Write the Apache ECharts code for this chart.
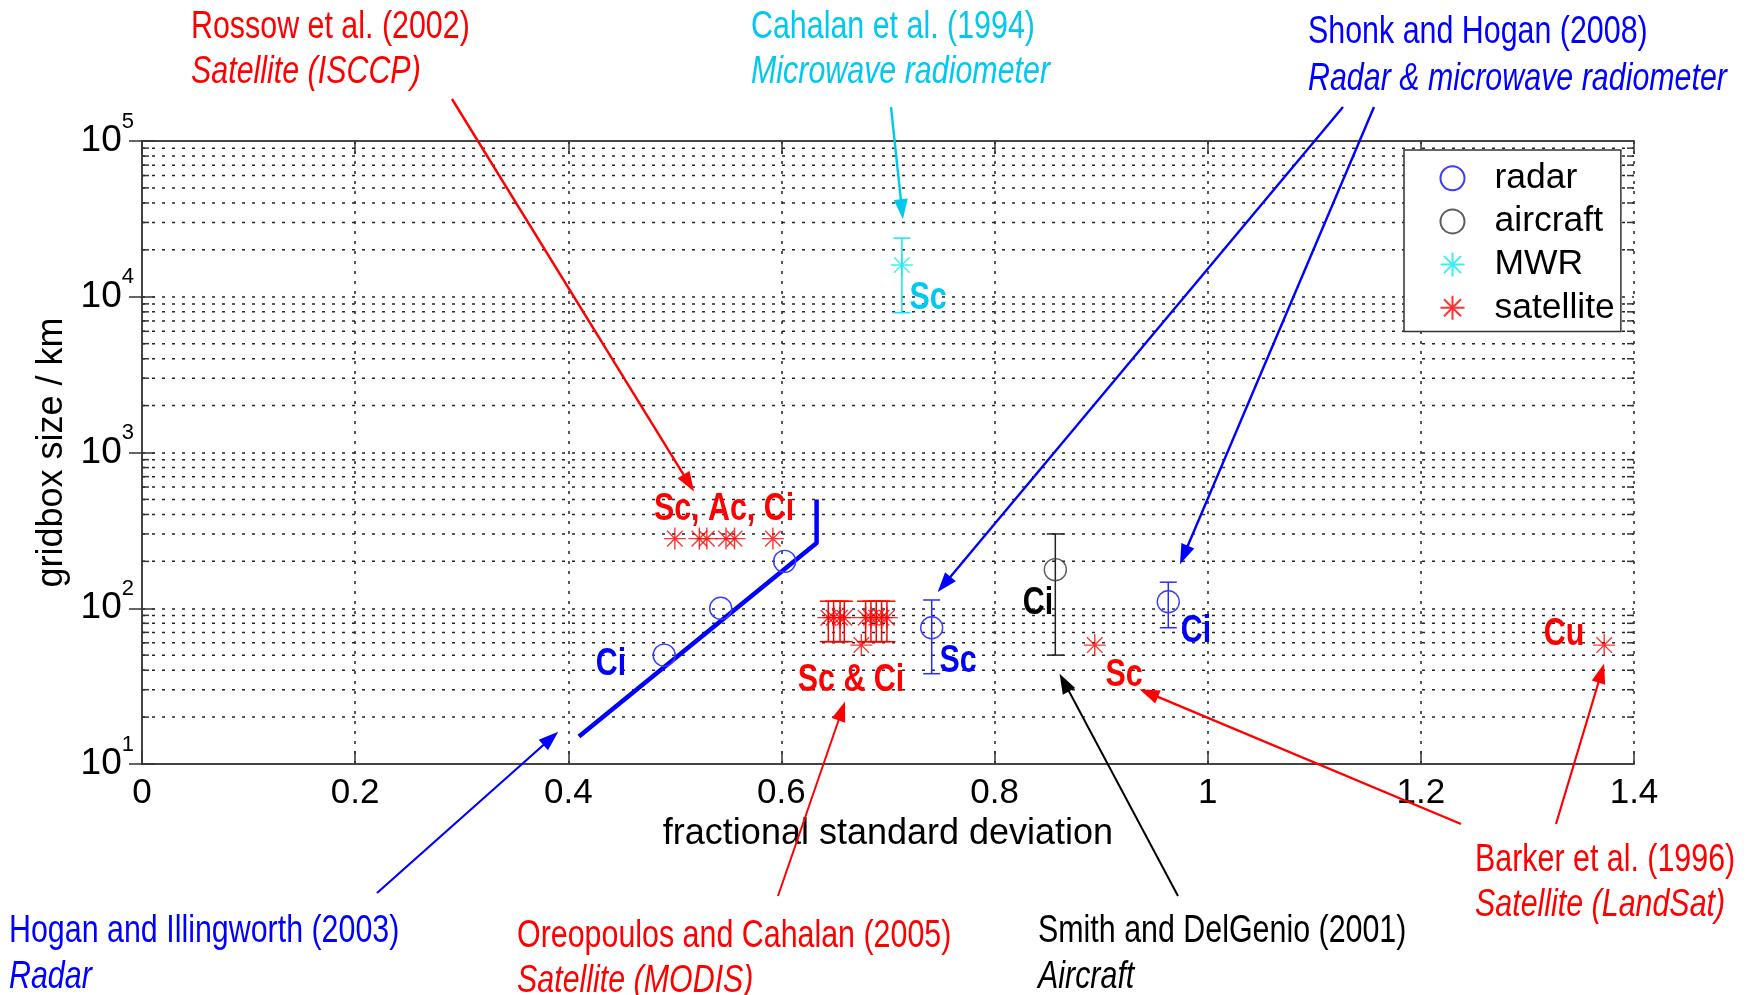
<!DOCTYPE html>
<html>
<head>
<meta charset="utf-8">
<script src="https://cdn.jsdelivr.net/npm/echarts@6/dist/echarts.min.js"></script>
<style>
  html, body { margin: 0; padding: 0; background: #ffffff; }
  #chart { width: 1751px; height: 995px; }
</style>
</head>
<body>
<div id="chart"></div>
<script>
// ---------------- data: fractional standard deviation vs gridbox size (km) ----------------
// Hogan and Illingworth (2003), radar: points and fitted curve
const hoganPoints = [[0.49, 50], [0.543, 100], [0.603, 200]];
const hoganCurve = [[0.41, 15], [0.633, 262], [0.633, 500]];
// Shonk and Hogan (2008), radar: [fsd, size, low, high]
const shonkRadar = [[0.741, 75, 38, 113], [0.963, 110, 75, 147]];
// Smith and DelGenio (2001), aircraft: [fsd, size, low, high]
const smithAircraft = [[0.857, 177, 50, 300]];
// Cahalan et al. (1994), microwave radiometer: [fsd, size, low, high]
const cahalanMWR = [[0.713, 16000, 7900, 23800]];
// Rossow et al. (2002), ISCCP satellite
const rossowSat = [[0.50, 280], [0.523, 280], [0.53, 280], [0.548, 280], [0.556, 280], [0.592, 280]];
// Oreopoulos and Cahalan (2005), MODIS satellite: [fsd, size, low, high]
const oreopoulosSat = [
  [0.644, 87, 61, 111], [0.649, 87, 61, 111], [0.655, 87, 61, 111], [0.659, 87, 61, 111],
  [0.679, 87, 61, 111], [0.684, 87, 61, 111], [0.689, 87, 61, 111], [0.694, 87, 61, 111],
  [0.699, 87, 61, 111]
];
const oreopoulosLow = [[0.675, 58]];
// Barker et al. (1996), LandSat satellite
const barkerSat = [[0.894, 58], [1.372, 58]];

// axis ticks
const xTickValues = [0, 0.2, 0.4, 0.6, 0.8, 1, 1.2, 1.4];
const yDecadeExponents = [1, 2, 3, 4, 5];
const legendNames = ['radar', 'aircraft', 'MWR', 'satellite'];

// ---------------- styling ----------------
const FONT = '"Liberation Sans", Arial, Helvetica, sans-serif';
const RED = '#ff0000';
const BLUE = '#0000ff';
const CYAN_TEXT = '#00c8f0';
const CYAN_MARK = '#10e8f0';
const BLACK = '#000000';
const NARROW = 0.8;
const STAR = 'path://M0,-10L0,10M-10,0L10,0M-7.07,-7.07L7.07,7.07M-7.07,7.07L7.07,-7.07';

const gridBox = { left: 142, right: 117, top: 141, bottom: 231 };
const dotted = [3, 7];

// minor log gridlines (2..9 within each decade)
const minorGridValues = [];
for (let e = yDecadeExponents[0]; e < yDecadeExponents[yDecadeExponents.length - 1]; e++) {
  for (let k = 2; k <= 9; k++) minorGridValues.push(k * Math.pow(10, e));
}

// source annotations: text block position (px) and arrows pointing to data coordinates
const notes = [
  { lines: ['Rossow et al. (2002)', 'Satellite (ISCCP)'], color: RED, x: 191, y: [28, 72],
    arrows: [{ tail: [452, 99], tip: [0.518, 561], w: 2.4 }] },
  { lines: ['Cahalan et al. (1994)', 'Microwave radiometer'], color: CYAN_TEXT, x: 751, y: [28, 72],
    arrows: [{ tail: [891, 107], tip: [0.714, 31500], w: 2.4 }] },
  { lines: ['Shonk and Hogan (2008)', 'Radar & microwave radiometer'], color: BLUE, x: 1308, y: [33, 79],
    arrows: [{ tail: [1343, 107], tip: [0.7466, 127], w: 2.4 }, { tail: [1374, 107], tip: [0.974, 192], w: 2.4 }] },
  { lines: ['Hogan and Illingworth (2003)', 'Radar'], color: BLUE, x: 9, y: [932, 977],
    arrows: [{ tail: [377, 893], tip: [0.3906, 16.1], w: 2.2 }] },
  { lines: ['Oreopoulos and Cahalan (2005)', 'Satellite (MODIS)'], color: RED, x: 517, y: [937, 981],
    arrows: [{ tail: [778, 896], tip: [0.6597, 25.2], w: 2 }] },
  { lines: ['Smith and DelGenio (2001)', 'Aircraft'], color: BLACK, x: 1038, y: [932, 977],
    arrows: [{ tail: [1178, 896], tip: [0.861, 38], w: 2 }] },
  { lines: ['Barker et al. (1996)', 'Satellite (LandSat)'], color: RED, x: 1475, y: [861, 905],
    arrows: [{ tail: [1461, 824], tip: [0.936, 30.2], w: 2.4 }, { tail: [1556, 824], tip: [1.372, 44.2], w: 2.2 }] }
];

// cloud-type labels beside the measurements (px centres)
const cloudLabels = [
  { t: 'Sc, Ac, Ci', c: RED, x: 724, y: 509.5 },
  { t: 'Ci', c: BLUE, x: 611, y: 664.5 },
  { t: 'Sc & Ci', c: RED, x: 851, y: 680.5 },
  { t: 'Sc', c: BLUE, x: 958, y: 661.5 },
  { t: 'Ci', c: BLACK, x: 1038, y: 603.5 },
  { t: 'Sc', c: RED, x: 1124, y: 675.5 },
  { t: 'Ci', c: BLUE, x: 1196, y: 631.5 },
  { t: 'Cu', c: RED, x: 1564, y: 634.5 },
  { t: 'Sc', c: CYAN_TEXT, x: 928, y: 298.5 }
];

// ---------------- helpers ----------------
function errorBarSeries(rows, color) {
  return {
    type: 'custom',
    silent: true,
    z: 4,
    data: rows.map(r => [r[0], r[2], r[3]]),
    encode: { x: 0, y: [1, 2] },
    renderItem(params, api) {
      const x = api.value(0);
      const lo = api.coord([x, api.value(1)]);
      const hi = api.coord([x, api.value(2)]);
      const cap = 8.5;
      const st = { stroke: color, lineWidth: 1.5 };
      return {
        type: 'group',
        children: [
          { type: 'line', shape: { x1: lo[0], y1: lo[1], x2: hi[0], y2: hi[1] }, style: st },
          { type: 'line', shape: { x1: lo[0] - cap, y1: lo[1], x2: lo[0] + cap, y2: lo[1] }, style: st },
          { type: 'line', shape: { x1: hi[0] - cap, y1: hi[1], x2: hi[0] + cap, y2: hi[1] }, style: st }
        ]
      };
    }
  };
}

const arrowList = [];
notes.forEach(n => n.arrows.forEach(a => arrowList.push({ tail: a.tail, tip: a.tip, w: a.w, color: n.color })));

function arrowShapes(tail, tip, color, w) {
  const dx = tip[0] - tail[0], dy = tip[1] - tail[1];
  const L = Math.hypot(dx, dy);
  const ux = dx / L, uy = dy / L;
  const hl = 20, hw = 7;
  const bx = tip[0] - ux * hl, by = tip[1] - uy * hl;
  return [
    { type: 'line', shape: { x1: tail[0], y1: tail[1], x2: bx + ux * 2, y2: by + uy * 2 }, style: { stroke: color, lineWidth: w } },
    { type: 'polygon', shape: { points: [[tip[0], tip[1]], [bx - uy * hw, by + ux * hw], [bx + uy * hw, by - ux * hw]] }, style: { fill: color } }
  ];
}

// ---------------- graphic texts ----------------
const graphics = [];
notes.forEach(n => {
  n.lines.forEach((line, i) => {
    graphics.push({
      type: 'text', x: n.x, y: n.y[i], scaleX: NARROW, z: 100, silent: true,
      style: {
        text: line, fill: n.color,
        font: (i === 1 ? 'italic ' : '') + '38px ' + FONT,
        align: 'left', verticalAlign: 'middle', textAlign: 'left', textVerticalAlign: 'middle'
      }
    });
  });
});
cloudLabels.forEach(l => {
  graphics.push({
    type: 'text', x: l.x, y: l.y, scaleX: NARROW, z: 100, silent: true,
    style: {
      text: l.t, fill: l.c, font: 'bold 38px ' + FONT,
      align: 'center', verticalAlign: 'middle', textAlign: 'center', textVerticalAlign: 'middle'
    }
  });
});

// ---------------- chart ----------------
const chart = echarts.init(document.getElementById('chart'), null, { renderer: 'canvas' });

const tickStyle = { color: '#333', width: 1.5 };
const axisLineStyle = { color: '#444', width: 2 };

chart.setOption({
  animation: false,
  backgroundColor: '#ffffff',
  grid: Object.assign({ containLabel: false }, gridBox),
  legend: {
    orient: 'vertical',
    left: 1404, top: 150,
    data: legendNames,
    selectedMode: false,
    itemWidth: 74, itemHeight: 24, itemGap: 7.2,
    padding: [10.2, 6, 5.6, 35.5],
    borderColor: '#333', borderWidth: 1.5, backgroundColor: '#ffffff',
    textStyle: { fontSize: 35.5, lineHeight: 34, fontFamily: FONT, color: '#000' }
  },
  xAxis: [
    {
      type: 'value', min: xTickValues[0], max: xTickValues[xTickValues.length - 1], interval: 0.2,
      position: 'bottom',
      name: 'fractional standard deviation', nameLocation: 'middle', nameGap: 45,
      nameTextStyle: { fontSize: 36, fontFamily: FONT, color: '#000' },
      axisLine: { show: true, lineStyle: axisLineStyle },
      axisTick: { show: true, inside: true, length: 13, lineStyle: tickStyle },
      axisLabel: { fontSize: 35, fontFamily: FONT, color: '#000', margin: 12,
        formatter: v => String(Math.round(v * 10) / 10) },
      splitLine: { show: true, lineStyle: { type: dotted, color: '#222', width: 1.5 } }
    },
    {
      type: 'value', min: xTickValues[0], max: xTickValues[xTickValues.length - 1], interval: 0.2,
      position: 'top',
      axisLine: { show: true, lineStyle: axisLineStyle },
      axisTick: { show: true, inside: true, length: 13, lineStyle: tickStyle },
      axisLabel: { show: false },
      splitLine: { show: false }
    }
  ],
  yAxis: [
    {
      type: 'log', logBase: 10,
      min: Math.pow(10, yDecadeExponents[0]), max: Math.pow(10, yDecadeExponents[yDecadeExponents.length - 1]),
      position: 'left',
      name: 'gridbox size / km', nameLocation: 'middle', nameGap: 72, nameRotate: 90,
      nameTextStyle: { fontSize: 36, fontFamily: FONT, color: '#000' },
      axisLine: { show: true, lineStyle: axisLineStyle },
      axisTick: { show: true, inside: true, length: 13, lineStyle: tickStyle },
      axisLabel: {
        margin: 8,
        formatter: v => '{b|10}{s|' + Math.round(Math.log10(v)) + '}',
        rich: {
          b: { fontSize: 37, fontFamily: FONT, color: '#000' },
          s: { fontSize: 22, fontFamily: FONT, color: '#000', padding: [0, 0, 39, 0] }
        }
      },
      splitLine: { show: true, lineStyle: { type: dotted, color: '#222', width: 1.5 } }
    },
    {
      type: 'log', logBase: 10,
      min: Math.pow(10, yDecadeExponents[0]), max: Math.pow(10, yDecadeExponents[yDecadeExponents.length - 1]),
      position: 'right',
      axisLine: { show: true, lineStyle: axisLineStyle },
      axisTick: { show: true, inside: true, length: 13, lineStyle: tickStyle },
      axisLabel: { show: false },
      splitLine: { show: false }
    }
  ],
  series: [
    // minor log gridlines and minor ticks on both vertical edges
    {
      type: 'custom', silent: true, z: 1,
      data: minorGridValues.map(v => [xTickValues[0], v]),
      renderItem(params, api) {
        const cs = params.coordSys;
        const y = api.coord([0, api.value(1)])[1];
        const x0 = cs.x, x1 = cs.x + cs.width;
        return {
          type: 'group',
          children: [
            { type: 'line', shape: { x1: x0, y1: y, x2: x1, y2: y },
              style: { stroke: '#222', lineWidth: 1.5, lineDash: dotted } },
            { type: 'line', shape: { x1: x0, y1: y, x2: x0 + 7, y2: y }, style: { stroke: '#333', lineWidth: 1.5 } },
            { type: 'line', shape: { x1: x1 - 7, y1: y, x2: x1, y2: y }, style: { stroke: '#333', lineWidth: 1.5 } }
          ]
        };
      }
    },
    // Hogan and Illingworth fitted curve
    {
      type: 'line', data: hoganCurve, showSymbol: false, symbol: 'none', silent: true, z: 3,
      lineStyle: { color: BLUE, width: 4.5 }
    },
    {
      name: 'radar', type: 'scatter', z: 5, symbol: 'circle', symbolSize: 22,
      data: hoganPoints.concat(shonkRadar.map(r => [r[0], r[1]])),
      itemStyle: { color: 'transparent', borderColor: '#3c3cff', borderWidth: 1.4, opacity: 1 }
    },
    {
      name: 'aircraft', type: 'scatter', z: 5, symbol: 'circle', symbolSize: 22,
      data: smithAircraft.map(r => [r[0], r[1]]),
      itemStyle: { color: 'transparent', borderColor: '#333333', borderWidth: 1.4 }
    },
    {
      name: 'MWR', type: 'scatter', z: 5, symbol: STAR, symbolSize: 22,
      data: cahalanMWR.map(r => [r[0], r[1]]),
      itemStyle: { color: 'transparent', borderColor: CYAN_MARK, borderWidth: 1.4 }
    },
    {
      name: 'satellite', type: 'scatter', z: 5, symbol: STAR, symbolSize: 22,
      data: rossowSat.concat(oreopoulosSat.map(r => [r[0], r[1]]), oreopoulosLow, barkerSat),
      itemStyle: { color: 'transparent', borderColor: RED, borderWidth: 1.4 }
    },
    errorBarSeries(shonkRadar, '#2a2aff'),
    errorBarSeries(smithAircraft, '#222222'),
    errorBarSeries(cahalanMWR, CYAN_MARK),
    errorBarSeries(oreopoulosSat, RED),
    // annotation arrows from the source captions to the measurements
    {
      type: 'custom', silent: true, z: 20, clip: false,
      data: arrowList.map((a, i) => [a.tip[0], a.tip[1], i]),
      renderItem(params, api) {
        const a = arrowList[api.value(2)];
        const tip = api.coord([api.value(0), api.value(1)]);
        return { type: 'group', children: arrowShapes(a.tail, tip, a.color, a.w) };
      }
    }
  ],
  graphic: graphics
});
</script>
</body>
</html>
